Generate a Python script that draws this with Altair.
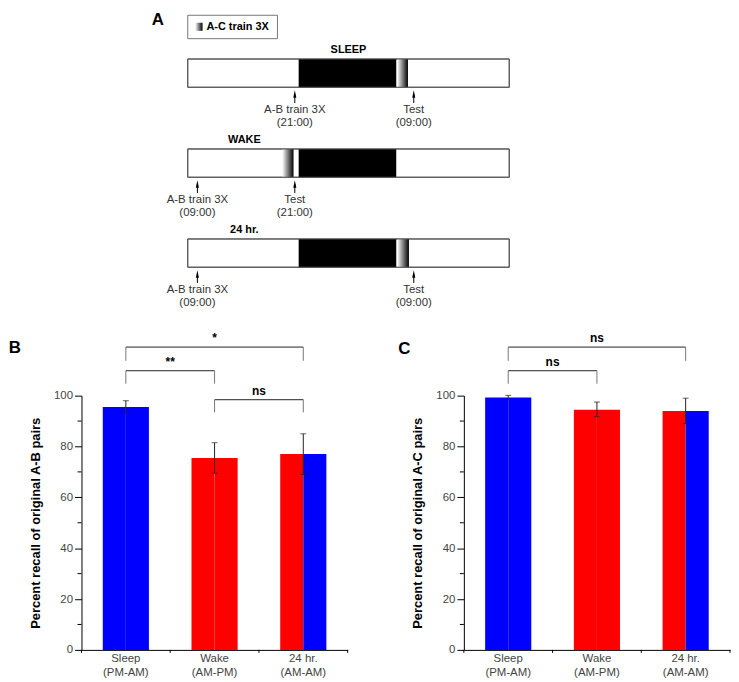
import altair as alt
import pandas as pd

# ---------------- Panel A (protocol schematic) ----------------
rows = ["SLEEP", "WAKE", "24 hr."]
night_start = [34.5, 34.5, 34.5]
night_end = [64.85, 64.85, 64.85]
grad_start = [65.15, 29.4, 65.15]
grad_end = [68.5, 32.9, 68.8]
train_at = [33.3, 3.0, 3.0]
test_at = [70.3, 33.3, 70.3]
train_label = ["A-B train 3X\n(21:00)", "A-B train 3X\n(09:00)", "A-B train 3X\n(09:00)"]
test_label = ["Test\n(09:00)", "Test\n(21:00)", "Test\n(09:00)"]
title_at = [50, 17.6, 17.6]
legend_label = ["A-C train 3X"]

# ---------------- Panels B & C ----------------
conditions = ["Sleep", "Wake", "24 hr."]
condition_sub = ["(PM-AM)", "(AM-PM)", "(AM-AM)"]
ab_mean = [95.5, 75.5, 77.0]
ab_low = [93.0, 69.5, 69.0]
ab_high = [98.0, 81.5, 85.0]
ac_mean = [99.3, 94.5, 94.0]
ac_low = [98.5, 91.7, 89.0]
ac_high = [100.1, 97.5, 99.0]
first_state = ["Sleep", "Wake", "Wake"]
second_state = ["Sleep", "Wake", "Sleep"]
ab_pairs = [("Sleep", "24 hr.", "*"), ("Sleep", "Wake", "**"), ("Wake", "24 hr.", "ns")]
ab_bracket_top = [119.1, 109.8, 98.4]
ab_bracket_leg = [113.7, 104.7, 93.4]
ac_pairs = [("Sleep", "24 hr.", "ns"), ("Sleep", "Wake", "ns")]
ac_bracket_top = [119.1, 109.8]
ac_bracket_leg = [113.7, 104.7]

NARROW = "Liberation Sans Narrow, Arial Narrow, Liberation Sans, Arial, sans-serif"
BOLD = "Liberation Sans, Arial, sans-serif"
SMALL = 11.5

# ================= Panel A =================
A_W, A_H = 651, 299
xs = alt.Scale(domain=[-33.05, 168.05], nice=False, zero=False)
ys = alt.Scale(domain=[0, 3.3], nice=False, zero=False, reverse=True)

r = pd.DataFrame({
    "row": rows, "i": list(range(3)),
    "night_start": night_start, "night_end": night_end,
    "grad_start": grad_start, "grad_end": grad_end,
    "title_at": title_at,
})
r["bar_top"] = r["i"] + 0.486
r["bar_bot"] = r["i"] + 0.80
r["title_y"] = r["i"] + 0.385

arrows = pd.concat([
    pd.DataFrame({"i": list(range(3)), "at": train_at, "label": train_label}),
    pd.DataFrame({"i": list(range(3)), "at": test_at, "label": test_label}),
], ignore_index=True)
arrows["head"] = arrows["i"] + 0.875
arrows["tail"] = arrows["i"] + 0.975
arrows["lab_y"] = arrows["i"] + 0.985


def X(f):
    return alt.X(f, scale=xs, axis=None)


def Y(f):
    return alt.Y(f, scale=ys, axis=None)


grad = alt.Gradient(gradient="linear",
                    stops=[alt.GradientStop(color="#ffffff", offset=0),
                           alt.GradientStop(color="#000000", offset=1)],
                    x1=0, x2=1, y1=0, y2=0)

outline = alt.Chart(r).mark_rect(fill="white", stroke="#555", strokeWidth=1).encode(
    x=alt.datum(0, scale=xs, axis=None), x2=alt.datum(100), y=Y("bar_top:Q"), y2="bar_bot:Q")
night = alt.Chart(r).mark_rect(fill="black").encode(
    x=X("night_start:Q"), x2="night_end:Q", y=Y("bar_top:Q"), y2="bar_bot:Q")
acgrad = alt.Chart(r).mark_rect(fill=grad).encode(
    x=X("grad_start:Q"), x2="grad_end:Q", y=Y("bar_top:Q"), y2="bar_bot:Q")
outline2 = alt.Chart(r).mark_rect(fill=None, stroke="#555", strokeWidth=1).encode(
    x=alt.datum(0, scale=xs, axis=None), x2=alt.datum(100), y=Y("bar_top:Q"), y2="bar_bot:Q")
titles = alt.Chart(r).mark_text(font=BOLD, fontWeight="bold", fontSize=11, color="black").encode(
    x=X("title_at:Q"), y=Y("title_y:Q"), text="row:N")
shafts = alt.Chart(arrows).mark_rule(color="black", strokeWidth=1).encode(
    x=X("at:Q"), y=Y("head:Q"), y2="tail:Q")
heads = alt.Chart(arrows).mark_point(shape="M0,-1L0.42,1L-0.42,1Z", size=55, filled=True,
                                     color="black", opacity=1).encode(
    x=X("at:Q"), y=Y("head:Q"))
labels = alt.Chart(arrows).mark_text(font=NARROW, fontSize=SMALL, color="#333", lineBreak="\n",
                                     baseline="top", lineHeight=13).encode(
    x=X("at:Q"), y=Y("lab_y:Q"), text="label:N")

leg_df = pd.DataFrame({"label": legend_label})
leg_box = alt.Chart(leg_df).mark_rect(fill="white", stroke="#777", strokeWidth=1).encode(
    x=alt.datum(0, scale=xs, axis=None), x2=alt.datum(27.9),
    y=alt.datum(0.0, scale=ys, axis=None), y2=alt.datum(0.26))
leg_icon = alt.Chart(leg_df).mark_rect(fill=grad).encode(
    x=alt.datum(2.3, scale=xs, axis=None), x2=alt.datum(4.6),
    y=alt.datum(0.083, scale=ys, axis=None), y2=alt.datum(0.173))
leg_text = alt.Chart(leg_df).mark_text(font=BOLD, fontWeight="bold", fontSize=11, align="left",
                                       color="black").encode(
    x=alt.datum(5.8, scale=xs, axis=None), y=alt.datum(0.13, scale=ys, axis=None), text="label:N")
letter_a = alt.Chart(pd.DataFrame({"l": ["A"]})).mark_text(
    font=BOLD, fontWeight="bold", fontSize=17, color="black").encode(
    x=alt.datum(-9.27, scale=xs, axis=None), y=alt.datum(0.055, scale=ys, axis=None), text="l:N")

panel_a = alt.layer(outline, night, acgrad, outline2, titles, shafts, heads, labels,
                    leg_box, leg_icon, leg_text, letter_a).properties(width=A_W, height=A_H)

# ================= Panels B, C =================
P_W, P_H = 268, 256
label_expr = " : ".join(
    [f"datum.value == '{c}' ? ['{c}', '{s}']" for c, s in zip(conditions[:-1], condition_sub[:-1])]
    + [f"['{conditions[-1]}', '{condition_sub[-1]}']"])
bx = alt.Scale(domain=conditions, paddingInner=0.48, paddingOuter=0.24)
by = alt.Scale(domain=[0, 100], nice=False, zero=True)
step = P_W / len(conditions)


def panel(mean, low, high, pairs, tops, legs, ytitle, letter, letter_dx, letter_dy):
    halves = []
    for c, m, s1, s2 in zip(conditions, mean, first_state, second_state):
        halves.append({"cond": c, "half": "L", "value": m, "state": s1})
        halves.append({"cond": c, "half": "R", "value": m, "state": s2})
    bars_df = pd.DataFrame(halves)
    err_df = pd.DataFrame({"cond": conditions, "low": low, "high": high})

    xaxis = alt.Axis(title=None, labelAngle=0, labelExpr=label_expr, labelFont=NARROW,
                     labelFontSize=SMALL, labelColor="#444", labelLineHeight=13.5, labelPadding=3,
                     ticks=False, domainColor="black", labelBaseline="top")
    yaxis = alt.Axis(title=ytitle, values=[0, 20, 40, 60, 80, 100], labelFont=NARROW,
                     labelFontSize=SMALL, labelColor="#444", tickSize=7, tickColor="black",
                     domainColor="black", grid=False, labelPadding=2, titleFont=BOLD,
                     titleFontWeight="bold", titleFontSize=13, titleColor="black", titlePadding=11)

    bars = alt.Chart(bars_df).mark_bar().encode(
        x=alt.X("cond:N", sort=conditions, scale=bx, axis=xaxis),
        xOffset=alt.XOffset("half:N", scale=alt.Scale(domain=["L", "R"], paddingInner=0, paddingOuter=0)),
        y=alt.Y("value:Q", scale=by, axis=yaxis),
        color=alt.Color("state:N", scale=alt.Scale(domain=["Sleep", "Wake"], range=["#0000FF", "#FF0000"]),
                        legend=None),
    )
    minor = alt.Chart(pd.DataFrame({"v": [10, 30, 50, 70, 90]})).mark_rule(color="black").encode(
        x=alt.value(-4), x2=alt.value(0), y=alt.Y("v:Q", scale=by))
    err = alt.Chart(err_df).mark_rule(color="#222", strokeWidth=1).encode(
        x=alt.X("cond:N", sort=conditions, scale=bx), y=alt.Y("low:Q", scale=by), y2="high:Q")
    cap_lo = alt.Chart(err_df).mark_tick(color="#222", thickness=1, size=6, orient="horizontal").encode(
        x=alt.X("cond:N", sort=conditions, scale=bx), y=alt.Y("low:Q", scale=by))
    cap_hi = alt.Chart(err_df).mark_tick(color="#222", thickness=1, size=6, orient="horizontal").encode(
        x=alt.X("cond:N", sort=conditions, scale=bx), y=alt.Y("high:Q", scale=by))

    layers = [bars, minor, err, cap_lo, cap_hi]
    # x-axis ticks at the boundaries between categories
    for k in range(len(conditions) + 1):
        layers.append(alt.Chart(pd.DataFrame({"k": [k]})).mark_rule(color="black").encode(
            x=alt.value(k * step), y=alt.value(P_H), y2=alt.value(P_H + 3)))
    for (c1, c2, lab), t, lg in zip(pairs, tops, legs):
        bdf = pd.DataFrame({"c1": [c1], "c2": [c2], "top": [t], "leg": [lg], "label": [lab]})
        ldf = pd.DataFrame({"c": [c1, c2], "top": [t, t], "leg": [lg, lg]})
        layers.append(alt.Chart(bdf).mark_rule(color="#222", strokeWidth=1).encode(
            x=alt.X("c1:N", scale=bx), x2="c2:N", y=alt.Y("top:Q", scale=by)))
        layers.append(alt.Chart(ldf).mark_rule(color="#777", strokeWidth=1).encode(
            x=alt.X("c:N", scale=bx), y=alt.Y("leg:Q", scale=by), y2="top:Q"))
        dx = (conditions.index(c2) - conditions.index(c1)) * step / 2
        layers.append(alt.Chart(bdf).mark_text(font=BOLD, fontWeight="bold", fontSize=12,
                                               baseline="bottom", dx=dx, dy=-2, color="black").encode(
            x=alt.X("c1:N", scale=bx), y=alt.Y("top:Q", scale=by), text="label:N"))
    layers.append(alt.Chart(pd.DataFrame({"l": [letter]})).mark_text(
        font=BOLD, fontWeight="bold", fontSize=17, color="black").encode(
        x=alt.value(letter_dx), y=alt.value(letter_dy), text="l:N"))
    return alt.layer(*layers).properties(width=P_W, height=P_H)


panel_b = panel(ab_mean, ab_low, ab_high, ab_pairs, ab_bracket_top, ab_bracket_leg,
                "Percent recall of original A-B pairs", "B", -67, -48)
panel_c = panel(ac_mean, ac_low, ac_high, ac_pairs, ac_bracket_top, ac_bracket_leg,
                "Percent recall of original A-C pairs", "C", -60, -47)

chart = alt.vconcat(
    panel_a,
    alt.hconcat(panel_b, panel_c, spacing=49),
    spacing=20,
).properties(padding=0).configure_view(stroke=None)

chart.save("out.html", embed_options={"renderer": "svg", "actions": False})
